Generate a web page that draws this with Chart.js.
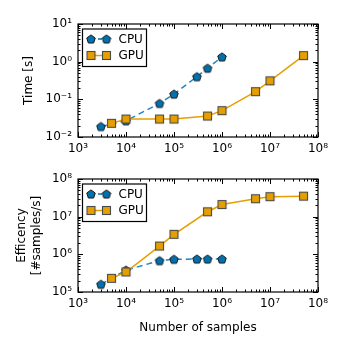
<!DOCTYPE html>
<html>
<head>
<meta charset="utf-8">
<script src="https://cdn.jsdelivr.net/npm/chart.js@4"></script>
<style>
  html, body { margin: 0; padding: 0; background: #fff; }
  #wrap { position: relative; width: 347px; height: 347px; overflow: hidden; }
  .box { position: absolute; left: 0; width: 347px; }
</style>
</head>
<body>
<div id="wrap">
  <div class="box" style="top:0;height:165px"><canvas id="timeChart"></canvas></div>
  <div class="box" style="top:165px;height:182px"><canvas id="effChart"></canvas></div>
</div>
<script>
// data
const cpuN = [3e3, 1e4, 5e4, 1e5, 3e5, 5e5, 1e6];
const cpuTime = [0.019, 0.027, 0.078, 0.138, 0.40, 0.67, 1.34];
const cpuEff = [1.6e5, 3.8e5, 6.8e5, 7.4e5, 7.5e5, 7.5e5, 7.5e5];

const gpuN = [5e3, 1e4, 5e4, 1e5, 5e5, 1e6, 5e6, 1e7, 5e7];
const gpuTime = [0.023, 0.030, 0.030, 0.030, 0.036, 0.050, 0.16, 0.31, 1.45];
const gpuEff = [2.3e5, 3.4e5, 1.66e6, 3.4e6, 1.35e7, 2.1e7, 3.0e7, 3.4e7, 3.5e7];

const xTicks = [1e3, 1e4, 1e5, 1e6, 1e7, 1e8];
const timeTicks = [1e-2, 1e-1, 1e0, 1e1];
const effTicks = [1e5, 1e6, 1e7, 1e8];
const seriesNames = ['CPU', 'GPU'];

const blue = '#0070AE';
const orange = '#E69F00';
const FONT = 'DejaVu Sans';

const sup = { '-': '⁻', '0': '⁰', '1': '¹', '2': '²', '3': '³', '4': '⁴', '5': '⁵', '6': '⁶', '7': '⁷', '8': '⁸', '9': '⁹' };
function pow10Label(v) {
    const e = Math.round(Math.log10(v));
    return '10' + String(e).split('').map(c => sup[c]).join('');
}

function makePentagon() {
    const c = document.createElement('canvas');
    c.width = 12; c.height = 12;
    const g = c.getContext('2d');
    g.beginPath();
    for (let i = 0; i < 5; i++) {
        const a = -Math.PI / 2 + i * 2 * Math.PI / 5;
        const px = 6 + 4.5 * Math.cos(a), py = 6.4 + 4.5 * Math.sin(a);
        if (i === 0) g.moveTo(px, py); else g.lineTo(px, py);
    }
    g.closePath();
    g.fillStyle = blue;
    g.fill();
    g.strokeStyle = '#1a1a1a';
    g.lineWidth = 1;
    g.stroke();
    return c;
}

function makeSquare() {
    const c = document.createElement('canvas');
    c.width = 11; c.height = 11;
    const g = c.getContext('2d');
    g.fillStyle = orange;
    g.fillRect(1.5, 1.5, 8, 8);
    g.strokeStyle = '#4a4a4a';
    g.lineWidth = 1.1;
    g.strokeRect(1.5, 1.5, 8, 8);
    return c;
}

const pentagon = makePentagon();
const square = makeSquare();

// inward ticks on all four sides, box frame and the legend
const framePlugin = {
    id: 'frame',
    afterDraw(chart) {
        const ctx = chart.ctx;
        const a = chart.chartArea;
        const xs = chart.scales.x, ys = chart.scales.y;
        ctx.save();
        ctx.strokeStyle = '#000';
        ctx.lineWidth = 1;
        function drawTicks(scale, horizontal) {
            const lo = Math.round(Math.log10(scale.min)), hi = Math.round(Math.log10(scale.max));
            for (let d = lo; d <= hi; d++) {
                for (let k = 1; k <= 9; k++) {
                    const v = k * Math.pow(10, d);
                    if (v < scale.min * 0.999 || v > scale.max * 1.001) continue;
                    const p = Math.round(scale.getPixelForValue(v)) + 0.5;
                    const len = k === 1 ? 5 : 2.5;
                    ctx.beginPath();
                    if (horizontal) {
                        ctx.moveTo(p, a.bottom); ctx.lineTo(p, a.bottom - len);
                        ctx.moveTo(p, a.top); ctx.lineTo(p, a.top + len);
                    } else {
                        ctx.moveTo(a.left, p); ctx.lineTo(a.left + len, p);
                        ctx.moveTo(a.right, p); ctx.lineTo(a.right - len, p);
                    }
                    ctx.stroke();
                }
            }
        }
        drawTicks(xs, true);
        drawTicks(ys, false);
        ctx.lineWidth = 1.2;
        ctx.strokeRect(a.left, a.top, a.right - a.left, a.bottom - a.top);

        // legend
        const lx = a.left + 4.5, ly = a.top + 5;
        ctx.fillStyle = '#fff';
        ctx.fillRect(lx, ly, 64, 37.5);
        ctx.lineWidth = 1.2;
        ctx.strokeStyle = '#000';
        ctx.strokeRect(lx, ly, 64, 37.5);
        const rows = [
            { y: ly + 10, color: blue, dash: [4, 3], img: pentagon, name: seriesNames[0] },
            { y: ly + 26.5, color: orange, dash: [], img: square, name: seriesNames[1] }
        ];
        rows.forEach(r => {
            const x1 = lx + 8.5, x2 = lx + 24;
            ctx.beginPath();
            ctx.setLineDash(r.dash);
            ctx.strokeStyle = r.color;
            ctx.lineWidth = 1.5;
            ctx.moveTo(x1, r.y); ctx.lineTo(x2, r.y);
            ctx.stroke();
            ctx.setLineDash([]);
            ctx.drawImage(r.img, x1 - r.img.width / 2, r.y - r.img.height / 2);
            ctx.drawImage(r.img, x2 - r.img.width / 2, r.y - r.img.height / 2);
            ctx.fillStyle = '#000';
            ctx.font = '12px "' + FONT + '"';
            ctx.textBaseline = 'middle';
            ctx.fillText(r.name, lx + 36, r.y + 0.5);
        });
        ctx.restore();
    }
};

function buildChart(id, cpuY, gpuY, yTicks, yTitle, xTitle, pad, xHeight) {
    const ctx = document.getElementById(id).getContext('2d');
    return new Chart(ctx, {
        type: 'line',
        data: {
            datasets: [
                {
                    label: seriesNames[0],
                    data: cpuN.map((n, i) => ({ x: n, y: cpuY[i] })),
                    borderColor: '#1E85C8',
                    borderWidth: 1.5,
                    borderDash: [6, 4],
                    pointStyle: pentagon,
                    order: 1,
                    tension: 0
                },
                {
                    label: seriesNames[1],
                    data: gpuN.map((n, i) => ({ x: n, y: gpuY[i] })),
                    borderColor: orange,
                    borderWidth: 1.5,
                    pointStyle: square,
                    order: 0,
                    tension: 0
                }
            ]
        },
        options: {
            responsive: true,
            maintainAspectRatio: false,
            animation: false,
            devicePixelRatio: 1,
            layout: { padding: pad },
            plugins: { legend: { display: false }, tooltip: { enabled: false } },
            scales: {
                x: {
                    type: 'logarithmic',
                    min: xTicks[0],
                    max: xTicks[xTicks.length - 1],
                    afterBuildTicks: s => { s.ticks = xTicks.map(v => ({ value: v })); },
                    afterFit: s => { s.height = xHeight; },
                    grid: { display: false, drawTicks: false },
                    border: { display: false },
                    ticks: {
                        autoSkip: false,
                        maxRotation: 0,
                        padding: 5,
                        color: '#000',
                        font: { family: FONT, size: 12 },
                        callback: v => pow10Label(v)
                    },
                    title: {
                        display: !!xTitle,
                        text: xTitle || '',
                        color: '#000',
                        font: { family: FONT, size: 12 },
                        padding: { top: 4, bottom: 0 }
                    }
                },
                y: {
                    type: 'logarithmic',
                    min: yTicks[0],
                    max: yTicks[yTicks.length - 1],
                    afterBuildTicks: s => { s.ticks = yTicks.map(v => ({ value: v })); },
                    afterFit: s => { s.width = 78 - pad.left; },
                    grid: { display: false, drawTicks: false },
                    border: { display: false },
                    ticks: {
                        autoSkip: false,
                        padding: 6,
                        color: '#000',
                        font: { family: FONT, size: 12 },
                        callback: v => pow10Label(v)
                    },
                    title: {
                        display: true,
                        text: yTitle,
                        color: '#000',
                        font: { family: FONT, size: 12 },
                        padding: { top: 0, bottom: 2 }
                    }
                }
            }
        },
        plugins: [framePlugin]
    });
}

buildChart('timeChart', cpuTime, gpuTime, timeTicks, 'Time [s]', null,
    { left: 22, top: 24, right: 29, bottom: 0 }, 28);
buildChart('effChart', cpuEff, gpuEff, effTicks, ['Efficency', '[#samples/s]'], 'Number of samples',
    { left: 15, top: 14, right: 29, bottom: 12 }, 43);
</script>
</body>
</html>
